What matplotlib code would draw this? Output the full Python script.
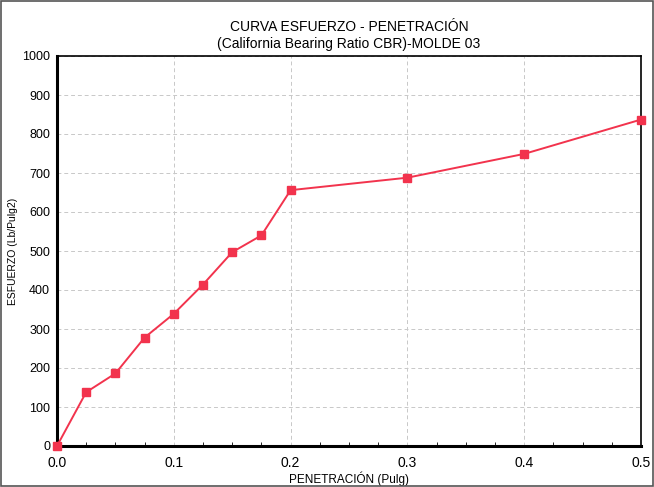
import numpy as np
import matplotlib
matplotlib.use('Agg')
import matplotlib.pyplot as plt
from matplotlib.ticker import MultipleLocator

plt.rcParams['font.family'] = ['Liberation Sans Narrow', 'Liberation Sans', 'DejaVu Sans']

# Data
penetracion = [0.0, 0.025, 0.05, 0.075, 0.1, 0.125, 0.15, 0.175, 0.2, 0.3, 0.4, 0.5]
esfuerzo = [0, 138, 186, 278, 339, 414, 497, 540, 656, 688, 749, 837]
x_ticks = [0.0, 0.1, 0.2, 0.3, 0.4, 0.5]
y_ticks = [0, 100, 200, 300, 400, 500, 600, 700, 800, 900, 1000]

fig = plt.figure(figsize=(6.54, 4.87), dpi=100)
ax = fig.add_axes([57 / 654, 1 - 446 / 487, (641 - 57) / 654, (446 - 56) / 487])

red = '#f2334d'
ax.plot(penetracion, esfuerzo, '-', color=red, linewidth=1.4,
        marker='s', markersize=6, markerfacecolor=red, markeredgecolor=red,
        clip_on=False, zorder=5)

ax.set_xlim(0, 0.5)
ax.set_ylim(0, 1000)
ax.set_xticks(x_ticks)
ax.set_xticklabels([f'{v:.1f}' for v in x_ticks])
ax.set_yticks(y_ticks)
ax.xaxis.set_minor_locator(MultipleLocator(0.025))
ax.tick_params(axis='x', which='major', labelsize=10, length=0, pad=7)
ax.tick_params(axis='y', which='major', labelsize=9, length=0, pad=5)
ax.tick_params(axis='x', which='minor', length=3, direction='in')
ax.grid(True, which='major', linestyle=(0, (4, 3)), color='#c8c8c8', linewidth=0.7)

for side in ['left', 'bottom']:
    ax.spines[side].set_linewidth(2.2)
for side in ['right', 'top']:
    ax.spines[side].set_linewidth(1.2)

ax.set_xlabel('PENETRACIÓN (Pulg)', fontsize=8.5, labelpad=1)
ax.set_ylabel('ESFUERZO (Lb/Pulg2)', fontsize=7.5, labelpad=3)
ax.set_title('CURVA ESFUERZO - PENETRACIÓN\n(California Bearing Ratio CBR)-MOLDE 03',
             fontsize=10, pad=6, linespacing=1.2)

# outer frame of the picture
fig.patches.append(plt.Rectangle((0.002, 0.002), 0.996, 0.996, transform=fig.transFigure,
                                 fill=False, edgecolor='#555555', linewidth=1.2))

plt.savefig('out.png', dpi=100)
plt.close()
